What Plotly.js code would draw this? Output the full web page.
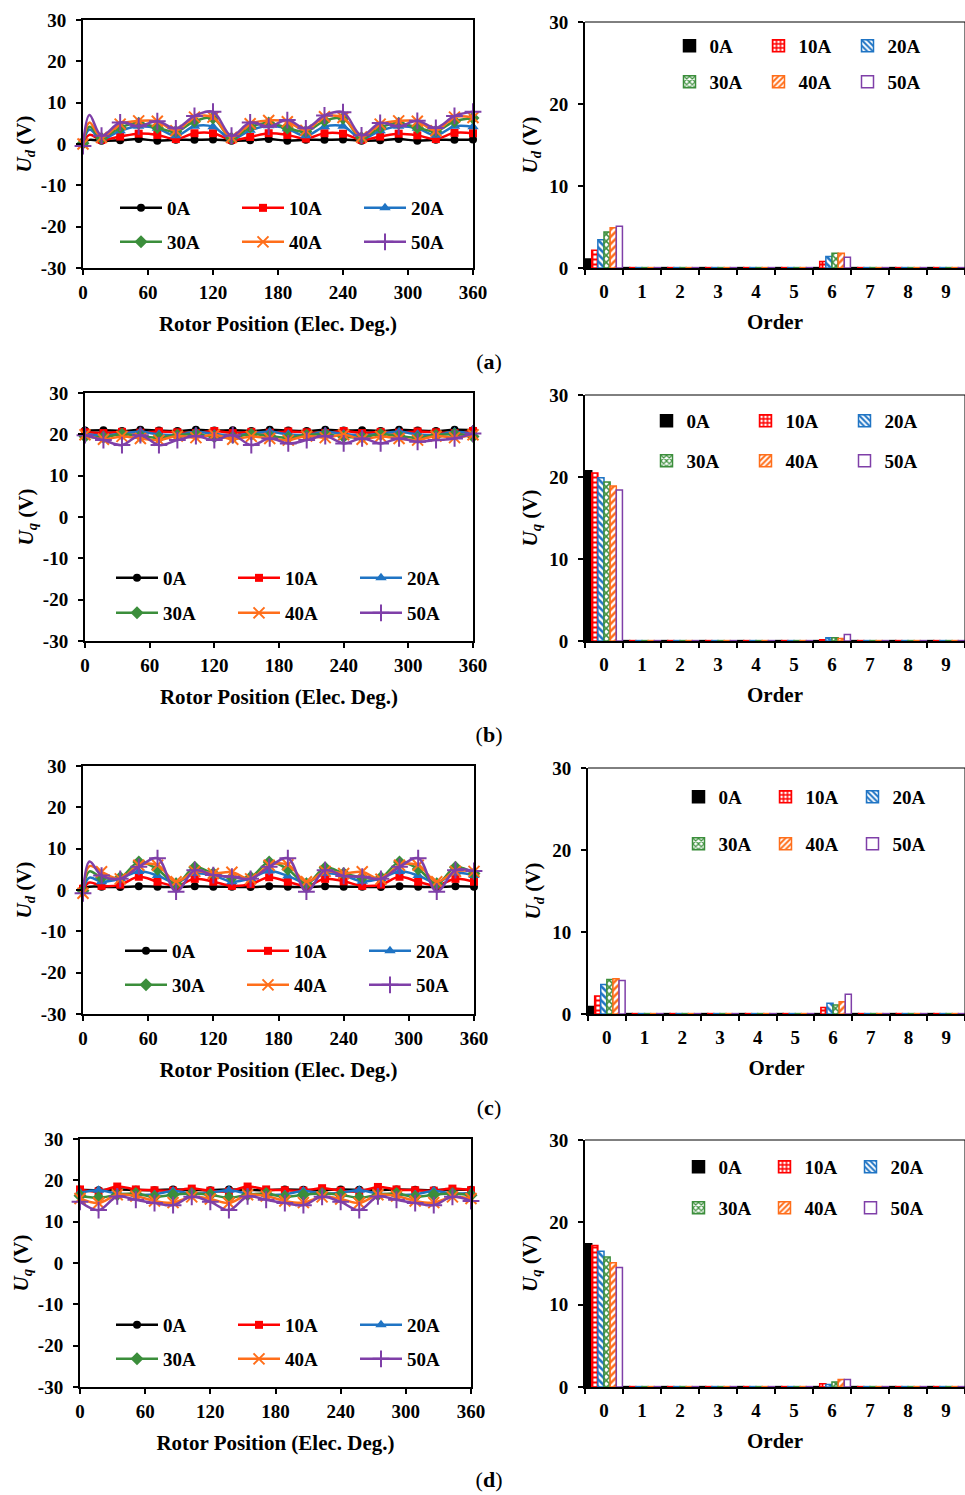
<!DOCTYPE html>
<html><head><meta charset="utf-8">
<script src="https://cdn.plot.ly/plotly-3.0.1.min.js"></script>
<style>
body{margin:0;background:#fff;}
#wrap{position:relative;width:965px;height:1495px;overflow:hidden;background:#fff;}
.p{position:absolute;}
.lab{position:absolute;font-family:'Liberation Serif',serif;font-size:22px;color:#000;transform:translate(-50%,-50%);}
</style></head><body>
<div id="wrap">
<div id="la" class="p"></div><div id="ra" class="p"></div>
<div id="lb" class="p"></div><div id="rb" class="p"></div>
<div id="lc" class="p"></div><div id="rc" class="p"></div>
<div id="ld" class="p"></div><div id="rd" class="p"></div>
<div class="lab" style="left:489px;top:362px">(<b>a</b>)</div>
<div class="lab" style="left:489px;top:735px">(<b>b</b>)</div>
<div class="lab" style="left:489px;top:1108px">(<b>c</b>)</div>
<div class="lab" style="left:489px;top:1480px">(<b>d</b>)</div>
</div>
<script>
// ---------- data ----------
const seriesNames = ['0A','10A','20A','30A','40A','50A'];
const rotorPos   = [0,17.1,34.3,51.4,68.6,85.7,102.9,120,137.1,154.3,171.4,188.6,205.7,222.9,240,257.1,274.3,291.4,308.6,325.7,342.9,360];
const rotorPosUd = [0,6,17.1,34.3,51.4,68.6,85.7,102.9,120,137.1,154.3,171.4,188.6,205.7,222.9,240,257.1,274.3,291.4,308.6,325.7,342.9,360];
const posTicks = [0,60,120,180,240,300,360];
const voltTicks = [-30,-20,-10,0,10,20,30];
const voltTickText = ['-30','-20','-10','0','10','20','30'];
const ampTicks = [0,10,20,30];
const orders = ['0','1','2','3','4','5','6','7','8','9'];

// (a) Ud waveforms
const A_0A  = [0.5,1.0, 0.8,0.9,1.2,0.8,1.0,1.0,1.1, 0.8,0.9,1.2,0.8,1.0,1.0,1.1, 0.8,0.9,1.2,0.8,1.0,1.0,1.1];
const A_10A = [0.3,2.2, 1.0,1.8,2.5,2.2,1.2,2.6,2.6, 1.0,1.7,2.6,2.2,1.3,2.6,2.5, 1.0,1.8,2.5,2.1,1.2,2.7,2.6];
const A_20A = [0.2,3.5, 1.2,3.2,4.3,3.8,2.0,4.3,4.2, 1.2,3.3,4.4,3.7,2.0,4.2,4.3, 1.3,3.2,4.3,3.8,2.1,4.3,4.2];
const A_30A = [0.2,4.2, 1.4,4.0,5.0,4.0,3.0,5.5,6.3, 1.4,4.1,5.1,3.9,3.0,5.6,6.2, 1.5,4.0,5.0,4.0,3.1,5.5,6.3];
const A_40A = [0.0,5.2, 1.6,4.8,5.6,5.5,3.2,6.5,6.5, 1.6,4.9,5.7,5.4,3.3,6.6,6.4, 1.7,4.8,5.6,5.5,3.2,6.5,6.4];
const A_50A = [-0.5,7.0, 2.0,5.2,4.3,5.5,3.8,6.8,7.8, 2.0,5.2,4.2,5.8,3.8,6.9,7.7, 2.1,5.1,4.3,5.6,3.9,6.8,7.8];
// (b) Uq waveforms
const B_0A  = [20.9,21.0,20.8,21.1,20.9,20.8,21.1,20.9,21.0,20.8,21.1,20.9,20.8,21.1,20.9,21.0,20.8,21.1,20.9,20.8,21.1,21.0];
const B_10A = [20.5,20.3,20.6,20.4,20.7,20.5,20.3,20.8,20.3,20.6,20.4,20.7,20.5,20.3,20.8,20.3,20.6,20.4,20.7,20.5,20.3,20.8];
const B_20A = [20.0,19.8,20.2,20.6,20.0,19.8,20.6,20.1,19.8,20.2,20.6,20.0,19.8,20.6,20.1,19.8,20.2,20.6,20.0,19.8,20.6,20.1];
const B_30A = [19.5,19.3,20.0,19.6,19.2,19.8,20.0,19.4,19.3,20.0,19.6,19.2,19.8,20.0,19.4,19.3,20.0,19.6,19.2,19.8,20.0,19.5];
const B_40A = [19.9,18.8,19.5,19.0,18.6,19.6,19.2,19.9,18.8,19.5,19.0,18.6,19.6,19.2,19.9,18.8,19.5,19.0,18.6,19.6,19.2,19.9];
const B_50A = [19.8,18.6,17.4,19.8,17.4,18.6,19.6,18.6,19.8,17.4,19.0,17.8,18.6,19.6,17.8,19.0,17.8,19.0,18.2,18.6,19.0,20.2];
// (c) Ud waveforms
const C_0A  = [0.5,0.8, 0.8,0.7,0.9,0.8,0.7,0.9,0.8, 0.8,0.7,0.9,0.8,0.7,0.9,0.8, 0.8,0.7,0.9,0.8,0.7,0.9,0.8];
const C_10A = [0.3,1.8, 1.0,1.3,3.2,2.0,1.0,2.7,2.0, 1.0,1.4,3.1,2.0,1.0,2.7,2.1, 1.0,1.3,3.2,2.0,1.1,2.7,2.0];
const C_20A = [0.0,3.0, 2.0,2.8,4.5,3.5,1.8,4.0,3.5, 2.0,2.8,4.6,3.4,1.8,4.0,3.5, 2.1,2.8,4.5,3.5,1.8,4.1,3.5];
const C_30A = [-0.2,4.5, 3.0,3.0,6.8,5.0,1.5,5.5,4.0, 3.0,3.1,6.8,5.0,1.5,5.4,4.0, 3.0,3.0,6.8,5.1,1.5,5.5,4.0];
const C_40A = [-0.8,5.8, 4.4,2.7,6.0,6.0,2.0,4.5,4.0, 4.3,2.7,6.0,6.1,2.0,4.5,4.0, 4.4,2.6,6.0,6.0,2.0,4.5,4.5];
const C_50A = [-0.8,6.9, 3.5,2.7,5.6,7.7,-0.4,4.8,3.6, 3.2,2.7,5.6,7.7,-0.4,4.8,3.4, 3.2,2.7,5.6,7.7,-0.4,4.8,4.6];
// (d) Uq waveforms
const D_0A  = [17.7,17.6,17.8,17.7,17.6,17.8,17.7,17.6,17.8,17.7,17.6,17.8,17.7,17.6,17.8,17.7,17.6,17.8,17.7,17.6,17.8,17.7];
const D_10A = [17.8,17.3,18.5,17.8,17.6,17.5,18.0,17.5,17.3,18.5,17.8,17.6,17.5,18.1,17.5,17.3,18.4,17.8,17.6,17.5,18.0,17.6];
const D_20A = [17.0,17.6,16.8,16.5,16.6,17.4,16.8,17.0,17.6,16.8,16.5,16.6,17.4,16.8,17.0,17.6,16.8,16.5,16.6,17.4,16.8,17.0];
const D_30A = [16.3,15.8,16.5,16.8,16.0,16.5,16.8,16.5,15.8,16.5,16.8,16.0,16.5,16.8,16.5,15.8,16.5,16.8,16.0,16.5,16.8,16.4];
const D_40A = [15.6,14.5,16.5,16.2,15.0,14.6,16.0,15.5,14.5,16.5,16.2,15.0,14.6,16.0,15.5,14.5,16.5,16.2,15.0,14.6,16.0,15.6];
const D_50A = [14.8,12.8,16.1,15.3,14.5,14.0,16.0,14.8,12.8,16.1,15.3,14.5,14.0,16.0,14.8,12.8,16.1,15.3,14.5,14.0,16.0,15.0];

// harmonic spectra
const HA_0A  = [1.1,0.05,0.05,0.05,0.05,0.05,0.05,0.05,0.05,0.05];
const HA_10A = [2.15,0.05,0.05,0.05,0.05,0.05,0.8,0.05,0.05,0.05];
const HA_20A = [3.45,0.05,0.05,0.05,0.05,0.05,1.4,0.05,0.05,0.05];
const HA_30A = [4.4,0.05,0.05,0.05,0.05,0.05,1.8,0.05,0.05,0.05];
const HA_40A = [4.9,0.05,0.05,0.05,0.05,0.05,1.8,0.05,0.05,0.05];
const HA_50A = [5.1,0.05,0.05,0.05,0.05,0.05,1.3,0.05,0.05,0.05];

const HB_0A  = [20.75,0.05,0.05,0.05,0.05,0.05,0.05,0.05,0.05,0.05];
const HB_10A = [20.5,0.05,0.05,0.05,0.05,0.05,0.15,0.05,0.05,0.05];
const HB_20A = [19.9,0.05,0.05,0.05,0.05,0.05,0.4,0.05,0.05,0.05];
const HB_30A = [19.4,0.05,0.05,0.05,0.05,0.05,0.4,0.05,0.05,0.05];
const HB_40A = [18.9,0.05,0.05,0.05,0.05,0.05,0.3,0.05,0.05,0.05];
const HB_50A = [18.4,0.05,0.05,0.05,0.05,0.05,0.8,0.05,0.05,0.05];

const HC_0A  = [0.9,0.05,0.05,0.05,0.05,0.05,0.05,0.05,0.05,0.05];
const HC_10A = [2.2,0.05,0.05,0.05,0.05,0.05,0.8,0.05,0.05,0.05];
const HC_20A = [3.6,0.05,0.05,0.05,0.05,0.05,1.3,0.05,0.05,0.05];
const HC_30A = [4.2,0.05,0.05,0.05,0.05,0.05,1.1,0.05,0.05,0.05];
const HC_40A = [4.3,0.05,0.05,0.05,0.05,0.05,1.5,0.05,0.05,0.05];
const HC_50A = [4.1,0.05,0.05,0.05,0.05,0.05,2.4,0.05,0.05,0.05];

const HD_0A  = [17.4,0.05,0.05,0.05,0.05,0.05,0.05,0.05,0.05,0.05];
const HD_10A = [17.2,0.05,0.05,0.05,0.05,0.05,0.4,0.05,0.05,0.05];
const HD_20A = [16.5,0.05,0.05,0.05,0.05,0.05,0.3,0.05,0.05,0.05];
const HD_30A = [15.8,0.05,0.05,0.05,0.05,0.05,0.6,0.05,0.05,0.05];
const HD_40A = [15.1,0.05,0.05,0.05,0.05,0.05,0.9,0.05,0.05,0.05];
const HD_50A = [14.5,0.05,0.05,0.05,0.05,0.05,0.9,0.05,0.05,0.05];

// ---------- styles ----------
const colors  = ['#000000','#FF0000','#1F74C4','#3B8E3B','#FF6E1A','#7F3FA8'];
const symbols = ['circle','square','triangle-up','diamond','x-thin','cross-thin'];
const msizes  = [8,8,10,10,11,12];
const patShapes = ['', '+', '\\', 'x', '/', ''];
const FONT = 'Liberation Serif';
const UD = '<i>U</i><sub><i>d</i></sub> (V)';
const UQ = '<i>U</i><sub><i>q</i></sub> (V)';
const cfg = {displayModeBar:false, staticPlot:true};
const legKey = i => i===0 ? 'legend' : 'legend'+(i+1);

function place(id, left, top, w, h){
  const el = document.getElementById(id);
  el.style.left = left+'px'; el.style.top = top+'px';
  el.style.width = w+'px'; el.style.height = h+'px';
}

function legendSet(layout, xs, ys, iw){
  for (let i=0;i<6;i++){
    layout[legKey(i)] = {orientation:'h', x:xs[i], xanchor:'left', y:ys[i], yanchor:'middle',
      bgcolor:'rgba(0,0,0,0)', font:{family:FONT, size:19, weight:'bold'}, itemwidth:iw};
  }
}

function linePlot(id, top, pl, pr, x, ys, yTitle, leg, skipIdx){
  const W = 490, H = 345, t = 20, b = 77;
  place(id, 0, top, W, H);
  const pw = pr - pl, ph = H - t - b;
  const traces = ys.map((y,i)=>{
    const tr = {
      type:'scatter', mode:'lines+markers', x:x, y:y, name:seriesNames[i],
      legend: legKey(i),
      line:{color:colors[i], width:2.5, shape:'spline', smoothing:1},
      marker:{symbol:symbols[i], color:colors[i], size:msizes[i],
              line:{color:colors[i], width: i>=4 ? 2 : 0}},
      cliponaxis:false
    };
    if (skipIdx !== null){
      tr.selectedpoints = x.map((v,k)=>k).filter(k=>k!==skipIdx);
      tr.unselected = {marker:{opacity:0}};
      tr.selected = {marker:{opacity:1}};
    }
    return tr;
  });
  const layout = {
    width:W, height:H, margin:{l:pl, r:W-pr, t:t, b:b},
    paper_bgcolor:'rgba(0,0,0,0)', plot_bgcolor:'#fff',
    font:{family:FONT, size:19, color:'#000', weight:'bold'},
    showlegend:true,
    xaxis:{range:[0,360], tickvals:posTicks, ticks:'outside', ticklen:5, tickwidth:2, tickcolor:'#000',
      linewidth:2, linecolor:'#000', mirror:true, showgrid:false, zeroline:false,
      ticklabelstandoff:1,
      title:{text:'Rotor Position (Elec. Deg.)', font:{size:21, weight:'bold'}, standoff:15}},
    yaxis:{range:[-30,30], tickvals:voltTicks, ticktext:voltTickText, ticks:'outside', ticklen:5, tickwidth:2, tickcolor:'#000',
      linewidth:2, linecolor:'#000', mirror:true, showgrid:false, zeroline:false,
      ticklabelstandoff:6,
      title:{text:yTitle, font:{size:21, weight:'bold'}, standoff:4}}
  };
  const xs = [], yy = [];
  for (let i=0;i<6;i++){
    xs.push((leg.x + (i%3)*leg.dx - 5 - pl)/pw);
    yy.push((H - b - (i<3 ? leg.y1 : leg.y2))/ph);
  }
  legendSet(layout, xs, yy, 42);
  Plotly.newPlot(id, traces, layout, cfg);
}

function barPlot(id, top, pl, t, ys, yTitle, leg){
  const W = 475, H = 345, b = 77, L0 = 490;
  place(id, L0, top, W, H);
  const pw = W - pl, ph = H - t - b;
  const traces = ys.map((y,i)=>{
    const m = {line:{color:colors[i], width:1.5}};
    if (i===0){ m.color = '#000'; }
    else if (patShapes[i]) { m.color = '#fff'; m.pattern = {shape:patShapes[i], fgcolor:colors[i], bgcolor:'#fff', size:5, solidity:(i===1?0.6:0.5), fillmode:'replace'}; }
    else { m.color = '#fff'; }
    return {type:'bar', x:orders, y:y, name:seriesNames[i], legend: legKey(i), marker:m};
  });
  const layout = {
    width:W, height:H, margin:{l:pl, r:0, t:t, b:b},
    paper_bgcolor:'rgba(0,0,0,0)', plot_bgcolor:'#fff',
    font:{family:FONT, size:19, color:'#000', weight:'bold'},
    barmode:'group', bargap:0.03, bargroupgap:0,
    showlegend:true,
    xaxis:{type:'category', categoryorder:'array', categoryarray:orders, range:[-0.5,9.5],
      tickson:'boundaries', ticks:'outside', ticklen:5, tickwidth:2, tickcolor:'#000', tickangle:0,
      linewidth:2, linecolor:'#000', showgrid:false, zeroline:false, ticklabelstandoff:5,
      title:{text:'Order', font:{size:21, weight:'bold'}, standoff:14}},
    yaxis:{range:[0,30], tickvals:ampTicks, ticks:'outside', ticklen:5, tickwidth:2, tickcolor:'#000',
      linewidth:2, linecolor:'#000', showgrid:false, zeroline:false, ticklabelstandoff:6,
      title:{text:yTitle, font:{size:21, weight:'bold'}, standoff:6}},
    shapes:[
      {type:'line', xref:'paper', yref:'paper', x0:0, x1:1, y0:1, y1:1, line:{color:'#000', width:1}},
      {type:'line', xref:'paper', yref:'paper', x0:1, x1:1, y0:0, y1:1, line:{color:'#000', width:1}}
    ]
  };
  const xs = [], yy = [];
  for (let i=0;i<6;i++){
    xs.push((leg.x + (i%3)*leg.dx + 5.5 - 6 - 20 - L0 - pl)/pw);
    yy.push((H - b - (i<3 ? leg.y1 : leg.y2))/ph);
  }
  legendSet(layout, xs, yy, 30);
  Plotly.newPlot(id, traces, layout, cfg);
}

linePlot('la', 0,    83, 473, rotorPosUd, [A_0A,A_10A,A_20A,A_30A,A_40A,A_50A], UD, {x:120, dx:122, y1:208, y2:242}, 1);
linePlot('lb', 373,  85, 473, rotorPos,   [B_0A,B_10A,B_20A,B_30A,B_40A,B_50A], UQ, {x:116, dx:122, y1:205, y2:240}, null);
linePlot('lc', 746,  83, 474, rotorPosUd, [C_0A,C_10A,C_20A,C_30A,C_40A,C_50A], UD, {x:125, dx:122, y1:205, y2:239}, 1);
linePlot('ld', 1119, 80, 471, rotorPos,   [D_0A,D_10A,D_20A,D_30A,D_40A,D_50A], UQ, {x:116, dx:122, y1:206, y2:240}, null);

barPlot('ra', 0,    95, 22, [HA_0A,HA_10A,HA_20A,HA_30A,HA_40A,HA_50A], UD, {x:690, dx:89, y1:46, y2:82});
barPlot('rb', 373,  95, 22, [HB_0A,HB_10A,HB_20A,HB_30A,HB_40A,HB_50A], UQ, {x:667, dx:99, y1:48, y2:88});
barPlot('rc', 746,  98, 22, [HC_0A,HC_10A,HC_20A,HC_30A,HC_40A,HC_50A], UD, {x:699, dx:87, y1:51, y2:98});
barPlot('rd', 1119, 95, 21, [HD_0A,HD_10A,HD_20A,HD_30A,HD_40A,HD_50A], UQ, {x:699, dx:86, y1:48, y2:89});
</script>
</body></html>
